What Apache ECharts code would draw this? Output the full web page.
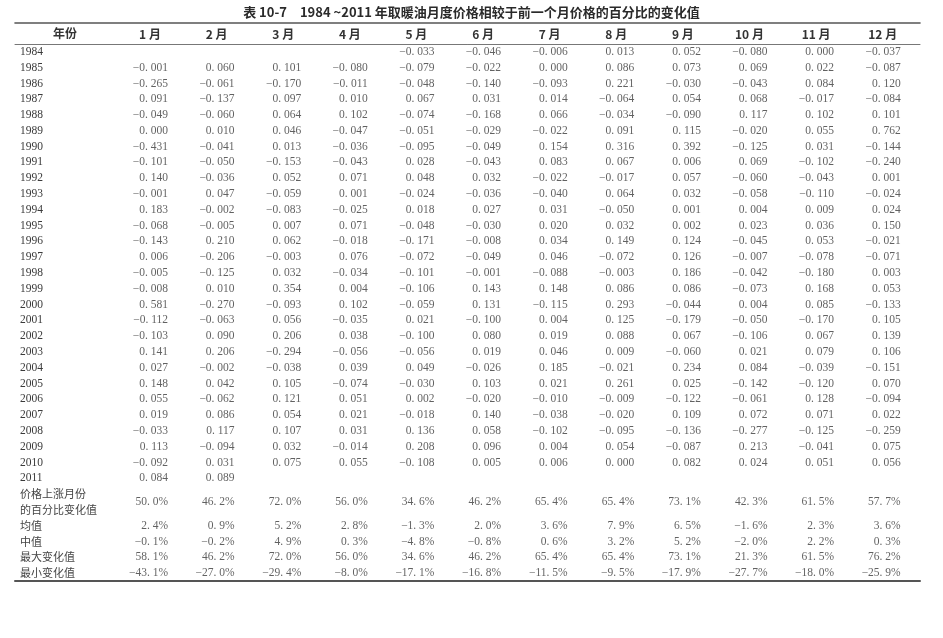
<!DOCTYPE html>
<html>
<head>
<meta charset="utf-8">
<script src="https://cdn.jsdelivr.net/npm/echarts@6/dist/echarts.min.js"></script>
<style>
html,body{margin:0;padding:0;background:#fff;}
#chart{width:943px;height:638px;}
</style>
</head>
<body>
<div id="chart"></div>
<script>
// ---- data ----
const titleText = '表 10-7\u30001984 ~2011 年取暖油月度价格相较于前一个月价格的百分比的变化值';
const yearHeader = '年份';
const years = ['1984','1985','1986','1987','1988','1989','1990','1991','1992','1993','1994','1995','1996','1997','1998','1999','2000','2001','2002','2003','2004','2005','2006','2007','2008','2009','2010','2011'];
const monthLabels = ['1 月','2 月','3 月','4 月','5 月','6 月','7 月','8 月','9 月','10 月','11 月','12 月'];
const summaryLabels = ['价格上涨月份','的百分比变化值','均值','中值','最大变化值','最小变化值'];

const jan = [null,-0.001,-0.265,0.091,-0.049,0.000,-0.431,-0.101,0.140,-0.001,0.183,-0.068,-0.143,0.006,-0.005,-0.008,0.581,-0.112,-0.103,0.141,0.027,0.148,0.055,0.019,-0.033,0.113,-0.092,0.084];
const feb = [null,0.060,-0.061,-0.137,-0.060,0.010,-0.041,-0.050,-0.036,0.047,-0.002,-0.005,0.210,-0.206,-0.125,0.010,-0.270,-0.063,0.090,0.206,-0.002,0.042,-0.062,0.086,0.117,-0.094,0.031,0.089];
const mar = [null,0.101,-0.170,0.097,0.064,0.046,0.013,-0.153,0.052,-0.059,-0.083,0.007,0.062,-0.003,0.032,0.354,-0.093,0.056,0.206,-0.294,-0.038,0.105,0.121,0.054,0.107,0.032,0.075,null];
const apr = [null,-0.080,-0.011,0.010,0.102,-0.047,-0.036,-0.043,0.071,0.001,-0.025,0.071,-0.018,0.076,-0.034,0.004,0.102,-0.035,0.038,-0.056,0.039,-0.074,0.051,0.021,0.031,-0.014,0.055,null];
const may = [-0.033,-0.079,-0.048,0.067,-0.074,-0.051,-0.095,0.028,0.048,-0.024,0.018,-0.048,-0.171,-0.072,-0.101,-0.106,-0.059,0.021,-0.100,-0.056,0.049,-0.030,0.002,-0.018,0.136,0.208,-0.108,null];
const jun = [-0.046,-0.022,-0.140,0.031,-0.168,-0.029,-0.049,-0.043,0.032,-0.036,0.027,-0.030,-0.008,-0.049,-0.001,0.143,0.131,-0.100,0.080,0.019,-0.026,0.103,-0.020,0.140,0.058,0.096,0.005,null];
const jul = [-0.006,0.000,-0.093,0.014,0.066,-0.022,0.154,0.083,-0.022,-0.040,0.031,0.020,0.034,0.046,-0.088,0.148,-0.115,0.004,0.019,0.046,0.185,0.021,-0.010,-0.038,-0.102,0.004,0.006,null];
const aug = [0.013,0.086,0.221,-0.064,-0.034,0.091,0.316,0.067,-0.017,0.064,-0.050,0.032,0.149,-0.072,-0.003,0.086,0.293,0.125,0.088,0.009,-0.021,0.261,-0.009,-0.020,-0.095,0.054,0.000,null];
const sep = [0.052,0.073,-0.030,0.054,-0.090,0.115,0.392,0.006,0.057,0.032,0.001,0.002,0.124,0.126,0.186,0.086,-0.044,-0.179,0.067,-0.060,0.234,0.025,-0.122,0.109,-0.136,-0.087,0.082,null];
const oct = [-0.080,0.069,-0.043,0.068,0.117,-0.020,-0.125,0.069,-0.060,-0.058,0.004,0.023,-0.045,-0.007,-0.042,-0.073,0.004,-0.050,-0.106,0.021,0.084,-0.142,-0.061,0.072,-0.277,0.213,0.024,null];
const nov = [0.000,0.022,0.084,-0.017,0.102,0.055,0.031,-0.102,-0.043,-0.110,0.009,0.036,0.053,-0.078,-0.180,0.168,0.085,-0.170,0.067,0.079,-0.039,-0.120,0.128,0.071,-0.125,-0.041,0.051,null];
const dec = [-0.037,-0.087,0.120,-0.084,0.101,0.762,-0.144,-0.240,0.001,-0.024,0.024,0.150,-0.021,-0.071,0.003,0.053,-0.133,0.105,0.139,0.106,-0.151,0.070,-0.094,0.022,-0.259,0.075,0.056,null];

const risePct   = [50.0,46.2,72.0,56.0,34.6,46.2,65.4,65.4,73.1,42.3,61.5,57.7];
const meanPct   = [2.4,0.9,5.2,2.8,-1.3,2.0,3.6,7.9,6.5,-1.6,2.3,3.6];
const medianPct = [-0.1,-0.2,4.9,0.3,-4.8,-0.8,0.6,3.2,5.2,-2.0,2.2,0.3];
const maxPct    = [58.1,46.2,72.0,56.0,34.6,46.2,65.4,65.4,73.1,21.3,61.5,76.2];
const minPct    = [-43.1,-27.0,-29.4,-8.0,-17.1,-16.8,-11.5,-9.5,-17.9,-27.7,-18.0,-25.9];

// ---- build ----
const months = [jan,feb,mar,apr,may,jun,jul,aug,sep,oct,nov,dec];
const rowCats = years.concat(summaryLabels);
const nYears = years.length;

function fmtNum(v){
  const s = Math.abs(v).toFixed(3).replace('.', '. ');
  return (v < 0 ? '\u2212' : '') + s;
}
function fmtPct(v){
  const s = Math.abs(v).toFixed(1).replace('.', '. ');
  return (v < 0 ? '\u2212' : '') + s + '%';
}

const cellData = [];
months.forEach((col, m) => {
  col.forEach((v, r) => {
    if (v !== null) cellData.push([m + 1, years[r], v]);
  });
});
const riseData = risePct.map((v, m) => [m + 1, summaryLabels[0], v]);
const statData = [];
[[meanPct, 2],[medianPct, 3],[maxPct, 4],[minPct, 5]].forEach(([arr, k]) => {
  arr.forEach((v, m) => statData.push([m + 1, summaryLabels[k], v]));
});

const serifFont = "'Liberation Serif','DejaVu Serif',serif";
const cjkFont = "'Noto Sans CJK SC','Noto Sans',sans-serif";
const txtColor = '#3a3a3a';
const xMin = -1.027, xMax = 12.56;

const labelBase = {
  show: true,
  position: 'inside',
  align: 'right',
  verticalAlign: 'middle',
  offset: [18, 0],
  fontFamily: serifFont,
  fontSize: 11.5,
  color: txtColor
};

const chart = echarts.init(document.getElementById('chart'), null, {renderer: 'canvas'});
chart.setOption({
  animation: false,
  backgroundColor: '#fff',
  title: [
    {
      text: titleText,
      left: 'center',
      top: 6,
      padding: 0,
      textStyle: {fontFamily: cjkFont, fontSize: 13, fontWeight: 'bold', color: '#2a2a2a'}
    },
    {
      text: yearHeader,
      left: 53,
      top: 27,
      padding: 0,
      textStyle: {fontFamily: cjkFont, fontSize: 12, fontWeight: 'bold', color: '#333'}
    }
  ],
  grid: {left: 15, right: 23, top: 44, bottom: 57, containLabel: false},
  xAxis: [
    {
      type: 'value', position: 'top', min: xMin, max: xMax,
      axisLine: {show: true, onZero: false, lineStyle: {color: '#777', width: 1}},
      axisTick: {show: false},
      splitLine: {show: false},
      axisLabel: {
        show: true, customValues: [1,2,3,4,5,6,7,8,9,10,11,12], margin: 4,
        formatter: v => monthLabels[Math.round(v) - 1] || '',
        fontFamily: cjkFont, fontSize: 12, fontWeight: 'bold', color: '#333'
      }
    },
    {
      type: 'value', position: 'top', offset: 21, min: xMin, max: xMax,
      axisLine: {show: true, onZero: false, lineStyle: {color: '#555', width: 1.6}},
      axisTick: {show: false}, splitLine: {show: false}, axisLabel: {show: false}
    },
    {
      type: 'value', position: 'bottom', min: xMin, max: xMax,
      axisLine: {show: true, onZero: false, lineStyle: {color: '#555', width: 2}},
      axisTick: {show: false}, splitLine: {show: false}, axisLabel: {show: false}
    }
  ],
  yAxis: {
    type: 'category',
    data: rowCats,
    inverse: true,
    boundaryGap: true,
    axisLine: {show: false},
    axisTick: {show: false},
    splitLine: {
      show: true,
      interval: (idx) => idx === nYears,
      lineStyle: {color: '#666', width: 1}
    },
    axisLabel: {
      inside: true,
      margin: 5,
      interval: 0,
      formatter: (v, i) => (i < nYears ? '{y|' + v + '}' : '{c|' + v + '}'),
      rich: {
        y: {fontFamily: serifFont, fontSize: 11.5, color: txtColor},
        c: {fontFamily: cjkFont, fontSize: 11, color: '#444'}
      }
    }
  },
  series: [
    {
      type: 'scatter', xAxisIndex: 0, symbolSize: 0, data: cellData,
      label: Object.assign({}, labelBase, {formatter: p => fmtNum(p.value[2])}),
      silent: true
    },
    {
      type: 'scatter', xAxisIndex: 0, symbolSize: 0, data: riseData,
      label: Object.assign({}, labelBase, {offset: [18, 8], formatter: p => fmtPct(p.value[2])}),
      silent: true
    },
    {
      type: 'scatter', xAxisIndex: 0, symbolSize: 0, data: statData,
      label: Object.assign({}, labelBase, {formatter: p => fmtPct(p.value[2])}),
      silent: true
    }
  ]
});
</script>
</body>
</html>
